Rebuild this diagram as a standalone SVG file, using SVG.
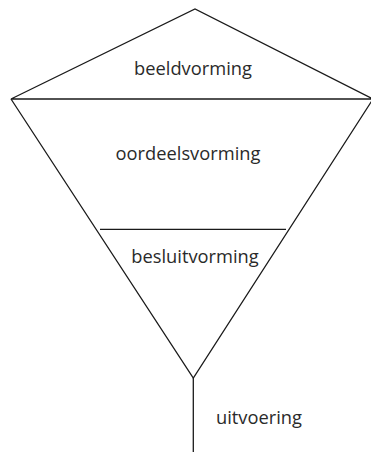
<svg xmlns="http://www.w3.org/2000/svg" width="371" height="452" viewBox="0 0 371 452">
<style>
.ln{stroke:#1a1a1a;stroke-width:1.3;fill:none}
.t{font-family:"Open Sans","DejaVu Sans",sans-serif;font-size:18.3px;fill:#2a2a2a}
</style>
<rect width="371" height="452" fill="#fff"/>
<g id="connectors">
<path class="ln" d="M193.3,378 L193.3,452"/>
</g>
<g id="beeldvorming">
<path class="ln" d="M11,99 L195,9 L373,99 Z"/>
<text class="t" x="193" y="75" text-anchor="middle">beeldvorming</text>
</g>
<g id="oordeelsvorming">
<path class="ln" d="M11,99 L193.3,378 L373,99"/>
<text class="t" x="188" y="160" text-anchor="middle">oordeelsvorming</text>
</g>
<g id="besluitvorming">
<path class="ln" d="M100,229.3 L286,229.3"/>
<text class="t" x="195" y="263" text-anchor="middle">besluitvorming</text>
</g>
<g id="uitvoering">
<text class="t" x="216" y="424">uitvoering</text>
</g>
</svg>
